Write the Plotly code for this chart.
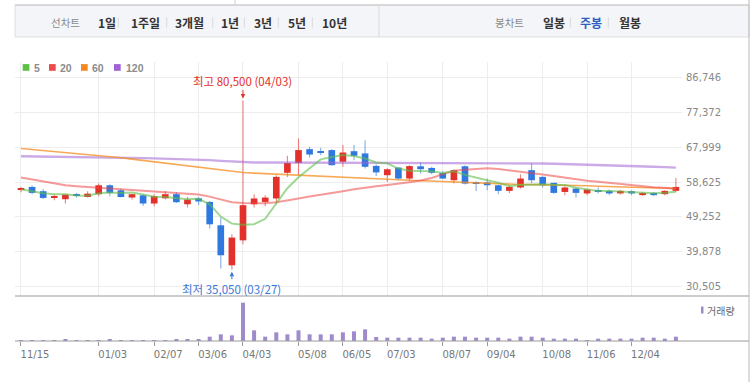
import plotly.graph_objects as go

# ---------------- data (weekly candles) ----------------
opens = [56600, 57300, 56150, 54500, 54000, 55200, 54600, 55350, 57750, 56400,
         54450, 55050, 52850, 54250, 55350, 52650, 54250, 53270, 47000, 36250,
         42950, 52650, 53270, 54200, 61100, 63750, 67450, 66900, 67200, 64050,
         66900, 66300, 62950, 60450, 62500, 59550, 62850, 62400, 61050, 59100,
         62850, 58300, 58500, 57750, 56250, 57150, 61800, 60000, 58400, 55950,
         56850, 55550, 56400, 56250, 55550, 56150, 55100, 55700, 55350, 56250]
highs = [57300, 57680, 56770, 55260, 55300, 55690, 56150, 58220, 58030, 56880,
         55400, 55340, 55340, 56230, 55880, 54620, 54620, 53540, 49070, 44580,
         80500, 55340, 55070, 60450, 65650, 70330, 68070, 67800, 67450, 68530,
         68530, 69870, 63330, 62300, 62600, 63150, 63870, 62690, 61610, 61980,
         63150, 58840, 59570, 57800, 57760, 60720, 63600, 60190, 58450, 57500,
         57150, 56700, 57150, 56610, 56500, 56400, 55900, 55900, 56400, 59730]
lows = [55900, 55340, 54080, 53730, 52840, 54450, 54450, 54800, 54800, 54450,
        53920, 52190, 52110, 53920, 53000, 51760, 52460, 46110, 35400, 35050,
        41890, 51760, 52110, 52840, 60000, 60500, 65220, 65840, 62960, 62700,
        64490, 62260, 60270, 58650, 59110, 58920, 60910, 60720, 59380, 58220,
        57950, 56230, 56420, 55340, 55690, 56880, 58380, 57150, 55500, 55070,
        54450, 55070, 55530, 55070, 55300, 55100, 54900, 54850, 55100, 55960]
closes = [56700, 55700, 54350, 54650, 55250, 54900, 55500, 57750, 55700, 54600,
          55350, 52850, 54800, 55350, 53200, 53900, 53400, 47270, 38950, 43700,
          52400, 54200, 54450, 60000, 63750, 67200, 66000, 66550, 63150, 66550,
          65650, 62700, 61200, 62050, 59550, 62900, 62050, 61100, 59550, 61800,
          58200, 58100, 57750, 56250, 57300, 59550, 59100, 57750, 55700, 57150,
          55700, 56600, 55950, 55550, 56230, 55550, 55700, 55100, 56250, 57300]
volumes = [30000, 30000, 30000, 30000, 60000, 30000, 30000, 30000, 60000, 30000,
           30000, 30000, 30000, 30000, 60000, 60000, 60000, 130000, 200000, 170000,
           1150000, 320000, 130000, 260000, 200000, 320000, 200000, 200000, 200000, 260000,
           290000, 350000, 120000, 100000, 100000, 100000, 100000, 70000, 100000, 130000,
           130000, 100000, 100000, 100000, 70000, 130000, 130000, 100000, 70000, 70000,
           70000, 30000, 70000, 70000, 70000, 70000, 100000, 100000, 70000, 130000]

ma5 = [56700, 56200, 55600, 55350, 55330, 54970, 54930, 55610, 55820, 55690,
       55780, 55250, 54660, 54590, 54310, 54020, 54130, 52620, 49340, 47440,
       47140, 47300, 48740, 52950, 56960, 59920, 62280, 64700, 65330, 65890,
       65580, 64920, 63850, 63630, 62230, 61680, 61550, 61530, 61030, 61480,
       60540, 59750, 59080, 58420, 57520, 57790, 57990, 57990, 57880, 57850,
       57080, 56580, 56220, 56190, 56010, 55980, 55800, 55630, 55770, 55980]
ma20 = [59840, 59300, 58650, 58200, 57760, 57500, 57300, 57150, 56950, 56750,
        56600, 56450, 56250, 56050, 55850, 55550, 55260, 54700, 54000, 53190,
        52980, 52900, 52910, 53180, 53600, 54220, 54740, 55180, 55550, 56150,
        56670, 57160, 57480, 57810, 58130, 58580, 59010, 59710, 60740, 61640,
        61930, 62130, 62290, 62100, 61780, 61400, 61050, 60610, 60240, 59770,
        59270, 58970, 58710, 58380, 58210, 57850, 57530, 57230, 57060, 56840]
ma60 = [67640, 67380, 67120, 66870, 66610, 66350, 66100, 65840, 65480, 65120,
        64760, 64400, 64030, 63700, 63360, 63020, 62690, 62300, 61920, 61550,
        61180, 61000, 60850, 60700, 60560, 60420, 60280, 60140, 59990, 59850,
        59730, 59600, 59480, 59360, 59230, 59110, 59000, 58880, 58770, 58650,
        58500, 58350, 58190, 58030, 57990, 57960, 57930, 57900, 57870, 57800,
        57700, 57600, 57500, 57400, 57300, 57200, 57100, 57000, 56930, 56880]
ma120 = [65550, 65520, 65490, 65460, 65430, 65400, 65350, 65300, 65240, 65180,
         65110, 65040, 64960, 64880, 64800, 64750, 64680, 64500, 64300, 64100,
         63900, 63880, 63870, 63860, 63860, 63850, 63850, 63850, 63850, 63850,
         63850, 63850, 63850, 63850, 63850, 63850, 63850, 63850, 63850, 63850,
         63850, 63830, 63800, 63780, 63750, 63700, 63650, 63600, 63530, 63460,
         63390, 63320, 63240, 63150, 63040, 62930, 62820, 62710, 62610, 62500]

x_tick_index = [0, 7, 12, 16, 20, 25, 29, 33, 38, 42, 47, 51, 55]
x_tick_labels = ["11/15", "01/03", "02/07", "03/06", "04/03", "05/08", "06/05",
                 "07/03", "08/07", "09/04", "10/08", "11/06", "12/04"]
y_tick_values = [30505, 39878, 49252, 58625, 67999, 77372, 86746]

high_label = "최고 80,500 (04/03)"
low_label = "최저 35,050 (03/27)"
high_week, high_value = 20, 80500
low_week, low_value = 19, 35050

ma_names = ["5", "20", "60", "120"]
toolbar_left = ["선차트", "1일", "1주일", "3개월", "1년", "3년", "5년", "10년"]
toolbar_right = ["봉차트", "일봉", "주봉", "월봉"]

# ---------------- figure ----------------
W, H = 752, 382
def px(x): return x / W
def py(y): return 1 - y / H

RED = "#e3302a"
BLUE = "#2f78e0"
RED_W = "rgba(227,48,42,0.6)"
BLUE_W = "rgba(47,120,224,0.6)"

idx = list(range(len(closes)))
fig = go.Figure()

ma_styles = [
    (ma120, "rgba(160,100,212,0.55)", 2.4),
    (ma60, "rgba(245,140,30,0.75)", 1.6),
    (ma20, "rgba(236,70,70,0.55)", 2.0),
    (ma5, "rgba(95,190,75,0.6)", 2.0),
]
for arr, col, w in ma_styles:
    fig.add_trace(go.Scatter(x=idx, y=arr, mode="lines", line=dict(color=col, width=w),
                             hoverinfo="skip", showlegend=False, xaxis="x", yaxis="y"))

up = [c >= o for o, c in zip(opens, closes)]
wick_col = [RED_W if u else BLUE_W for u in up]
body_col = [RED if u else BLUE for u in up]
body_base = [min(o, c) for o, c in zip(opens, closes)]
body_h = [max(abs(c - o), 260) for o, c in zip(opens, closes)]
wick_h = [h - l for h, l in zip(highs, lows)]

fig.add_trace(go.Bar(x=idx, y=wick_h, base=lows, width=0.1,
                     marker=dict(color=wick_col, line=dict(width=0)),
                     showlegend=False, xaxis="x", yaxis="y", hoverinfo="skip"))
fig.add_trace(go.Bar(x=idx, y=body_h, base=body_base, width=0.6,
                     marker=dict(color=body_col, line=dict(width=0)),
                     showlegend=False, xaxis="x", yaxis="y"))
fig.add_trace(go.Bar(x=idx, y=volumes, width=0.36,
                     marker=dict(color="#9f8acb", line=dict(width=0)),
                     showlegend=False, xaxis="x2", yaxis="y2"))

xdom = [px(15), px(682)]
xrng = [-0.54, 59.55]
axis_font = dict(family="DejaVu Sans", size=10, color="#888")

fig.update_layout(
    width=W, height=H, autosize=False,
    margin=dict(l=0, r=0, t=0, b=0),
    paper_bgcolor="white", plot_bgcolor="white",
    barmode="overlay", showlegend=False,
    xaxis=dict(domain=xdom, range=xrng, anchor="y", tickvals=x_tick_index,
               showticklabels=False, ticks="", showgrid=True, gridcolor="#ededed",
               gridwidth=1, zeroline=False, showline=False, fixedrange=True),
    yaxis=dict(domain=[py(296), py(62)], range=[28007, 90856], anchor="x",
               side="right", tickvals=y_tick_values,
               ticktext=[f"{v:,}" for v in y_tick_values], tickfont=axis_font,
               ticks="", showgrid=True, gridcolor="#ededed", gridwidth=1,
               zeroline=False, showline=False, ticklabelstandoff=3, fixedrange=True),
    xaxis2=dict(domain=xdom, range=xrng, anchor="y2", tickvals=x_tick_index,
                ticktext=x_tick_labels, tickfont=dict(family="DejaVu Sans", size=10, color="#777"),
                ticks="outside", ticklen=4, tickcolor="#999", tickwidth=1,
                ticklabelshift=14, showgrid=False, zeroline=False, showline=False,
                fixedrange=True),
    yaxis2=dict(domain=[py(341), py(296)], range=[0, 1351000], anchor="x2",
                showticklabels=False, ticks="", showgrid=False, zeroline=False,
                showline=False, fixedrange=True),
)

shapes = []
def line(x0, y0, x1, y1, color, width=1):
    shapes.append(dict(type="line", xref="paper", yref="paper", x0=px(x0), y0=py(y0),
                       x1=px(x1), y1=py(y1), line=dict(color=color, width=width)))

# toolbar band
shapes.append(dict(type="rect", xref="paper", yref="paper", x0=px(15), x1=px(749),
                   y0=py(37), y1=py(5), fillcolor="#f4f5f8", line=dict(color="#dedede", width=1),
                   layer="below"))
line(15, 5, 749, 5, "#c4c4c4")
line(235, 0, 235, 5, "#cfcfcf")
line(379, 5, 379, 37, "#d8d8d8")
line(749, 0, 749, 382, "#b8b8b8")
# panel separators
line(15, 296, 749, 296, "#9a9a9a")
line(15, 341, 749, 341, "#9a9a9a")

# toolbar separators
for sx in [118.3, 166.7, 212.7, 244.3, 278.3, 312.3, 570.3, 608.3]:
    line(sx, 17.5, sx, 27.5, "#d9d9d9")

annotations = []
kr = "Noto Sans CJK KR"
left_pos = [50, 96.5, 130, 174, 220, 253, 287, 321]
for i, (t, xl) in enumerate(zip(toolbar_left, left_pos)):
    if i == 0:
        txt, f = t, dict(family=kr, size=10.5, color="#8a8a8a")
    else:
        txt, f = f"<b>{t}</b>", dict(family=kr, size=12, color="#333")
    annotations.append(dict(xref="paper", yref="paper", x=px(xl - 1), y=py(22), text=txt,
                            showarrow=False, xanchor="left", yanchor="middle", font=f))
right_pos = [494, 542, 579, 618]
for i, (t, xl) in enumerate(zip(toolbar_right, right_pos)):
    if i == 0:
        txt, f = t, dict(family=kr, size=10.5, color="#8a8a8a")
    elif i == 2:
        txt, f = f"<b>{t}</b>", dict(family=kr, size=12, color="#2f5fc0")
    else:
        txt, f = f"<b>{t}</b>", dict(family=kr, size=12, color="#333")
    annotations.append(dict(xref="paper", yref="paper", x=px(xl - 1), y=py(22), text=txt,
                            showarrow=False, xanchor="left", yanchor="middle", font=f))

# legend for moving averages
leg_colors = ["#5cbf46", "#ee4a4a", "#f5891e", "#9f62d4"]
leg_sq = [22.7, 49, 81, 114]
leg_tx = [32.5, 58.5, 90.5, 124.5]
for name, c, sx, tx in zip(ma_names, leg_colors, leg_sq, leg_tx):
    shapes.append(dict(type="rect", xref="paper", yref="paper", x0=px(sx), x1=px(sx + 6.7),
                       y0=py(70.8), y1=py(64.1), fillcolor=c, line=dict(width=0)))
    annotations.append(dict(xref="paper", yref="paper", x=px(tx - 1), y=py(67.5),
                            text=f"<b>{name}</b>", showarrow=False, xanchor="left",
                            yanchor="middle",
                            font=dict(family="Liberation Sans", size=10.5, color="#8c8c8c")))

# volume label
shapes.append(dict(type="rect", xref="paper", yref="paper", x0=px(701), x1=px(703.5),
                   y0=py(313.5), y1=py(306.5), fillcolor="#9f8acb", line=dict(width=0)))
annotations.append(dict(xref="paper", yref="paper", x=px(705), y=py(310), text="거래량",
                        showarrow=False, xanchor="left", yanchor="middle",
                        font=dict(family=kr, size=10, color="#666")))

# high / low markers
annotations.append(dict(xref="x", yref="y", x=high_week, y=high_value, text=high_label,
                        showarrow=True, arrowhead=2, arrowsize=0.9, arrowwidth=1,
                        arrowcolor="#e3302a", ax=0, ay=-20, standoff=2,
                        font=dict(family=kr, size=11.5, color="#e3302a")))
annotations.append(dict(xref="x", yref="y", x=low_week, y=low_value, text=low_label,
                        showarrow=True, arrowhead=2, arrowsize=0.9, arrowwidth=1,
                        arrowcolor="#3a78d8", ax=0, ay=19, standoff=2,
                        font=dict(family=kr, size=11.5, color="#3a78d8")))

fig.update_layout(shapes=shapes, annotations=annotations)
fig.write_html("out.html", config={"displayModeBar": False},
               post_script="document.body.style.margin='0px';")
